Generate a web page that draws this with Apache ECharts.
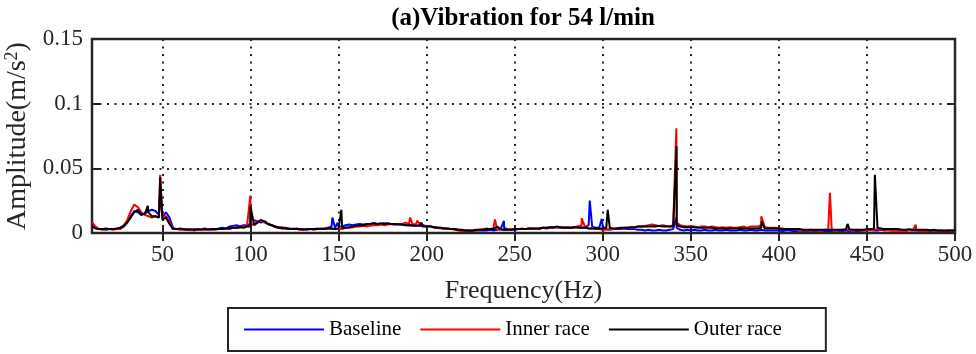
<!DOCTYPE html>
<html>
<head>
<meta charset="utf-8">
<script src="https://cdn.jsdelivr.net/npm/echarts@6/dist/echarts.min.js"></script>
<style>
  html, body { margin: 0; padding: 0; background: #fff; }
  #chart { width: 976px; height: 354px; }
</style>
</head>
<body>
<div id="chart"></div>
<script>
// spectrum sampled every 2 Hz from 10 to 500 Hz, amplitudes in m/s^2
var freqGrid = [];
for (var f = 10; f <= 500; f += 2) freqGrid.push(f);

var baselineAmp = [
  0.006,0.004,0.003,0.003,0.0025,0.003,0.003,0.003,0.004,0.006,
  0.009,0.013,0.017,0.016,0.014,0.015,0.017,0.018,0.017,0.014,
  0.012,0.016,0.012,0.004,0.003,0.003,0.0025,0.003,0.002,0.003,
  0.0025,0.003,0.0035,0.003,0.0025,0.003,0.0035,0.004,0.0035,0.005,
  0.0055,0.006,0.005,0.006,0.006,0.007,0.010,0.009,0.008,0.009,
  0.007,0.006,0.005,0.0045,0.004,0.004,0.0035,0.003,0.0035,0.003,
  0.003,0.0025,0.003,0.003,0.0035,0.003,0.0035,0.004,0.005,0.004,
  0.005,0.005,0.006,0.0065,0.006,0.0065,0.007,0.0065,0.007,0.007,
  0.0075,0.007,0.007,0.0075,0.007,0.007,0.0065,0.007,0.0065,0.006,
  0.006,0.0055,0.006,0.0055,0.005,0.005,0.0055,0.0045,0.004,0.004,
  0.0035,0.0035,0.003,0.003,0.0025,0.002,0.002,0.002,0.0015,0.002,
  0.002,0.002,0.002,0.0025,0.002,0.0025,0.003,0.004,0.003,0.0025,
  0.0025,0.003,0.003,0.003,0.0035,0.003,0.0035,0.003,0.004,0.0035,
  0.004,0.004,0.0045,0.004,0.004,0.0045,0.004,0.0045,0.005,0.004,
  0.0045,0.006,0.005,0.004,0.004,0.005,0.003,0.0025,0.003,0.003,
  0.003,0.0035,0.003,0.003,0.003,0.0025,0.0025,0.002,0.0025,0.002,
  0.002,0.0025,0.002,0.002,0.0025,0.003,0.004,0.0025,0.002,0.0025,
  0.002,0.0025,0.002,0.002,0.0025,0.002,0.002,0.0025,0.002,0.002,
  0.0025,0.002,0.002,0.002,0.0025,0.002,0.002,0.0025,0.002,0.002,
  0.0025,0.002,0.002,0.002,0.002,0.002,0.0015,0.002,0.002,0.0015,
  0.0015,0.002,0.0015,0.0015,0.002,0.0015,0.0015,0.002,0.0015,0.0015,
  0.0015,0.002,0.0015,0.0015,0.002,0.0015,0.002,0.0015,0.0015,0.002,
  0.002,0.0025,0.002,0.002,0.0025,0.002,0.0025,0.002,0.002,0.0025,
  0.002,0.002,0.0025,0.002,0.002,0.0015,0.002,0.0015,0.002,0.002,
  0.0015,0.002,0.0015,0.0015,0.002,0.0015
];
var baselinePeaks = [[48.6,0.030],[100,0.012],[146.5,0.012],[149.5,0.008],[243.9,0.0093],
  [286,0.0065],[292.6,0.025],[299.4,0.011],[341.6,0.012]];

var innerAmp = [
  0.0085,0.005,0.003,0.0025,0.003,0.003,0.0025,0.003,0.003,0.005,
  0.010,0.017,0.022,0.020,0.016,0.014,0.013,0.012,0.013,0.012,
  0.013,0.013,0.009,0.003,0.003,0.0025,0.003,0.0025,0.0025,0.002,
  0.0025,0.003,0.0025,0.003,0.003,0.0025,0.003,0.003,0.0035,0.003,
  0.004,0.004,0.0045,0.005,0.005,0.006,0.007,0.009,0.010,0.008,
  0.007,0.006,0.0045,0.004,0.0045,0.0035,0.003,0.0035,0.003,0.0025,
  0.003,0.003,0.003,0.0025,0.003,0.003,0.0035,0.0035,0.0035,0.003,
  0.0035,0.003,0.004,0.004,0.0045,0.005,0.005,0.0055,0.005,0.0055,
  0.006,0.006,0.0065,0.006,0.0065,0.007,0.0065,0.007,0.007,0.008,
  0.007,0.0065,0.007,0.007,0.006,0.0055,0.005,0.0045,0.004,0.0035,
  0.0035,0.003,0.003,0.0025,0.002,0.0015,0.0015,0.0015,0.002,0.002,
  0.0025,0.003,0.0035,0.003,0.004,0.003,0.0025,0.0025,0.0025,0.003,
  0.003,0.003,0.0035,0.003,0.0035,0.0035,0.003,0.0035,0.004,0.004,
  0.004,0.0045,0.0045,0.004,0.0045,0.004,0.004,0.0045,0.005,0.006,
  0.0045,0.0035,0.0035,0.003,0.003,0.0025,0.0025,0.003,0.003,0.0035,
  0.0035,0.004,0.004,0.0045,0.004,0.005,0.005,0.0055,0.006,0.0065,
  0.006,0.0055,0.006,0.0055,0.005,0.006,0.008,0.006,0.0055,0.005,
  0.0055,0.005,0.0045,0.005,0.005,0.0045,0.005,0.0045,0.004,0.0045,
  0.004,0.0045,0.004,0.004,0.0045,0.005,0.004,0.005,0.005,0.005,
  0.006,0.0045,0.004,0.004,0.004,0.0035,0.0035,0.003,0.003,0.003,
  0.0025,0.0025,0.002,0.002,0.0025,0.002,0.002,0.002,0.0025,0.0025,
  0.003,0.002,0.002,0.0025,0.003,0.0025,0.002,0.0025,0.002,0.002,
  0.0025,0.002,0.0025,0.003,0.0025,0.0025,0.002,0.002,0.002,0.0015,
  0.002,0.0015,0.002,0.002,0.002,0.0015,0.002,0.0015,0.002,0.0015,
  0.002,0.0015,0.0015,0.002,0.0015,0.0015
];
var innerPeaks = [[48.7,0.045],[99.9,0.029],[190.6,0.012],[194.6,0.0095],[238.8,0.0105],
  [288,0.0115],[341.8,0.081],[390,0.013],[429,0.031],[477.7,0.0065]];

var outerAmp = [
  0.005,0.0035,0.003,0.003,0.0035,0.003,0.003,0.0035,0.004,0.005,
  0.008,0.012,0.016,0.018,0.014,0.015,0.016,0.013,0.013,0.012,
  0.010,0.012,0.007,0.003,0.003,0.0035,0.003,0.0025,0.003,0.0025,
  0.003,0.0025,0.003,0.0025,0.003,0.003,0.003,0.003,0.0035,0.0035,
  0.004,0.004,0.0045,0.004,0.005,0.005,0.006,0.008,0.010,0.009,
  0.007,0.006,0.005,0.004,0.0035,0.0035,0.003,0.003,0.003,0.003,
  0.0025,0.003,0.003,0.003,0.003,0.0035,0.003,0.0035,0.0035,0.003,
  0.0035,0.004,0.004,0.0045,0.005,0.0055,0.006,0.006,0.0065,0.007,
  0.0075,0.007,0.0075,0.007,0.0075,0.007,0.007,0.0065,0.0065,0.006,
  0.006,0.006,0.0055,0.006,0.0055,0.005,0.005,0.0045,0.004,0.004,
  0.0035,0.0035,0.003,0.003,0.0025,0.0025,0.002,0.002,0.002,0.0025,
  0.0025,0.0025,0.003,0.003,0.003,0.005,0.003,0.0025,0.0025,0.0025,
  0.003,0.003,0.003,0.003,0.0035,0.0035,0.0035,0.0035,0.004,0.004,
  0.0045,0.0045,0.005,0.0045,0.004,0.004,0.004,0.0045,0.004,0.004,
  0.004,0.0035,0.0035,0.0035,0.0035,0.0035,0.004,0.004,0.0035,0.0035,
  0.004,0.004,0.004,0.0045,0.0045,0.005,0.005,0.005,0.005,0.005,
  0.005,0.0055,0.005,0.005,0.005,0.005,0.006,0.005,0.0045,0.0045,
  0.0045,0.0045,0.004,0.004,0.004,0.004,0.004,0.0035,0.0035,0.0035,
  0.0035,0.0035,0.0035,0.0035,0.0035,0.0035,0.0035,0.0035,0.0035,0.0035,
  0.004,0.0035,0.0035,0.0035,0.0035,0.0035,0.003,0.003,0.003,0.003,
  0.003,0.003,0.0025,0.0025,0.0025,0.0025,0.0025,0.0025,0.0025,0.0025,
  0.0025,0.0025,0.0025,0.0025,0.0025,0.003,0.0025,0.0025,0.0025,0.0025,
  0.003,0.003,0.003,0.004,0.0035,0.003,0.003,0.003,0.003,0.003,
  0.0025,0.0025,0.003,0.0025,0.0025,0.0025,0.0025,0.0025,0.002,0.0025,
  0.002,0.002,0.002,0.002,0.002,0.002
];
var outerPeaks = [[41.7,0.021],[48.7,0.043],[100,0.021],[151.6,0.018],[197,0.008],
  [302.8,0.018],[341.9,0.067],[390.2,0.009],[439,0.007],[454.5,0.045]];

var seriesNames = ['Baseline', 'Inner race', 'Outer race'];
var seriesColors = ['#0000ff', '#ff0000', '#000000'];
var xTicks = [50, 100, 150, 200, 250, 300, 350, 400, 450, 500];

function buildPoints(amp, peaks) {
  var pts = freqGrid.map(function (f, i) { return [f, amp[i]]; });
  peaks.forEach(function (p) { pts.push(p); });
  pts.sort(function (a, b) { return a[0] - b[0]; });
  return pts;
}

var allData = [
  buildPoints(baselineAmp, baselinePeaks),
  buildPoints(innerAmp, innerPeaks),
  buildPoints(outerAmp, outerPeaks)
];

var FONT = '"Liberation Serif", "Times New Roman", serif';
var INK = '#262626';

var chart = echarts.init(document.getElementById('chart'));

var option = {
  animation: false,
  backgroundColor: '#fff',
  title: {
    text: '(a)Vibration for 54 l/min',
    left: 523,
    top: 6,
    padding: 0,
    textAlign: 'center',
    textStyle: { fontFamily: FONT, fontSize: 25, fontWeight: 'bold', color: '#000' }
  },
  legend: {
    data: seriesNames,
    left: 228,
    top: 308,
    padding: [11, 44, 11, 16],
    borderColor: INK,
    borderWidth: 2,
    icon: 'rect',
    itemWidth: 80,
    itemHeight: 2,
    itemGap: 19,
    textStyle: { fontFamily: FONT, fontSize: 21, color: '#000' }
  },
  grid: {
    left: 92, right: 21, top: 39, bottom: 121,
    outerBoundsMode: 'none',
    show: true,
    borderColor: INK,
    borderWidth: 2.5
  },
  xAxis: [{
    type: 'value',
    min: 10, max: 500,
    name: 'Frequency(Hz)',
    nameLocation: 'middle',
    nameGap: 45,
    nameTextStyle: { fontFamily: FONT, fontSize: 26, color: INK },
    axisLine: { show: false },
    axisTick: { inside: true, length: 8, lineStyle: { color: INK, width: 2 }, customValues: xTicks },
    axisLabel: { fontFamily: FONT, fontSize: 23, color: INK, margin: 10, customValues: xTicks },
    splitLine: { show: true, lineStyle: { color: INK, width: 2, type: [2, 5.5] } }
  }, {
    type: 'value',
    position: 'top',
    min: 10, max: 500,
    axisLine: { show: false },
    axisTick: { inside: true, length: 8, lineStyle: { color: INK, width: 2 }, customValues: xTicks },
    axisLabel: { show: false },
    splitLine: { show: false }
  }],
  yAxis: [{
    type: 'value',
    min: 0, max: 0.15, interval: 0.05,
    name: '{a|Amplitude(m/s}{s|2}{a|)}',
    nameLocation: 'middle',
    nameGap: 58,
    nameTextStyle: {
      color: INK,
      rich: {
        a: { fontFamily: FONT, fontSize: 28, color: INK, lineHeight: 30 },
        s: { fontFamily: FONT, fontSize: 18, color: INK, verticalAlign: 'top', lineHeight: 30 }
      }
    },
    axisLine: { show: false },
    axisTick: { inside: true, length: 8, lineStyle: { color: INK, width: 2 } },
    axisLabel: { fontFamily: FONT, fontSize: 23, color: INK, margin: 9 },
    splitLine: { show: true, lineStyle: { color: INK, width: 2, type: [2, 5.5] } }
  }, {
    type: 'value',
    position: 'right',
    min: 0, max: 0.15, interval: 0.05,
    axisLine: { show: false },
    axisTick: { inside: true, length: 8, lineStyle: { color: INK, width: 2 } },
    axisLabel: { show: false },
    splitLine: { show: false }
  }],
  series: seriesNames.map(function (name, i) {
    return {
      name: name,
      type: 'line',
      xAxisIndex: 0,
      yAxisIndex: 0,
      data: allData[i],
      symbol: 'none',
      color: seriesColors[i],
      lineStyle: { color: seriesColors[i], width: 2 },
      z: 2 + i
    };
  })
};

chart.setOption(option);
</script>
</body>
</html>
